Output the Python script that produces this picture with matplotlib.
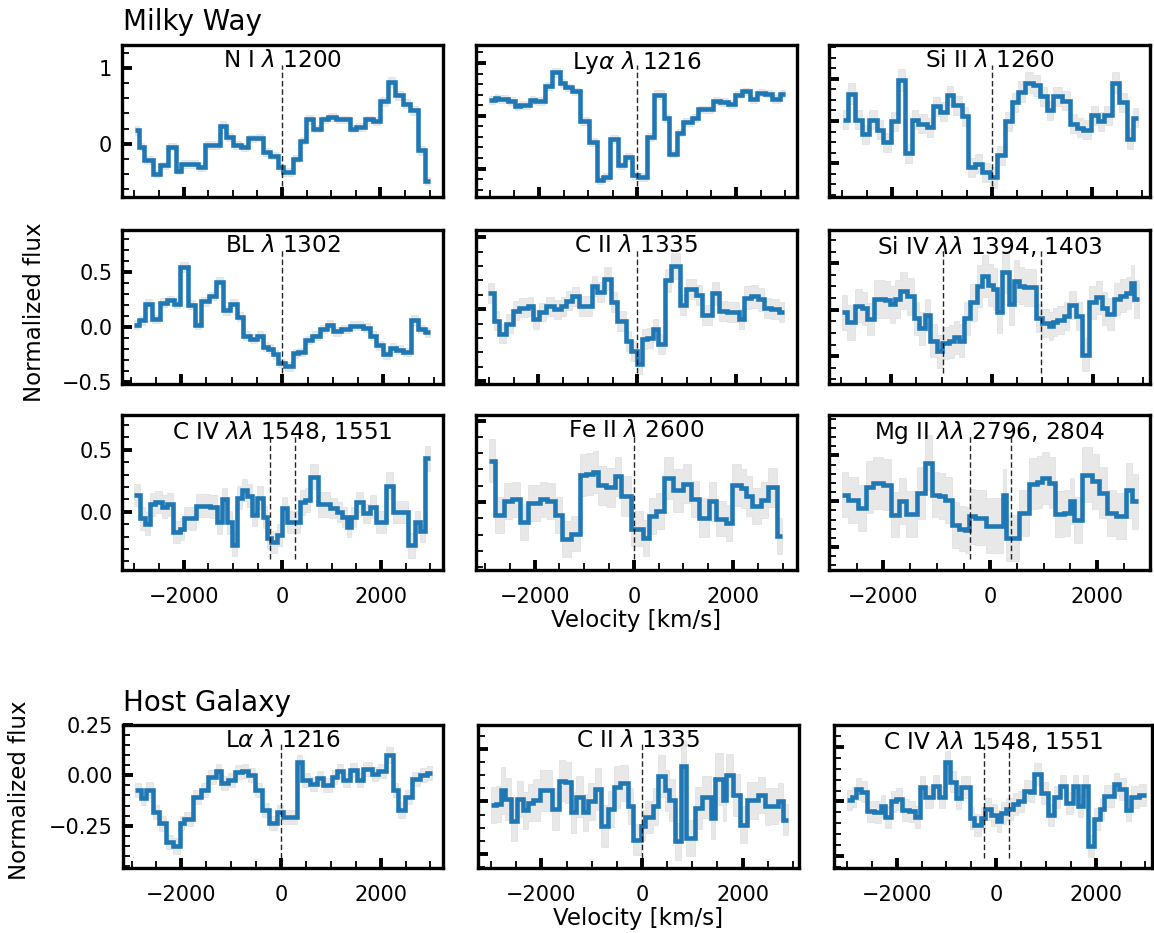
import matplotlib
matplotlib.use("Agg")
import matplotlib.pyplot as plt
from matplotlib.ticker import MultipleLocator, AutoMinorLocator

# --- spectra: bin edges in km/s, normalized flux and 1-sigma error per bin ---
ni_vel = [-2983, -2909, -2807, -2624, -2488, -2319, -2149, -2048, -1709, -1573, -1268, -1132, -997, -827,
          -692, -522, -386, -251, -81, 20, 224, 359, 495, 631, 800, 936, 1105, 1376, 1512, 1681, 1851,
          1987, 2156, 2292, 2461, 2597, 2766, 2902, 3004]
ni_flux = [0.18, -0.04, -0.22, -0.40, -0.29, -0.04, -0.36, -0.27, -0.31, -0.02, 0.24, 0.09, -0.02, -0.05,
           0.07, 0.08, -0.11, -0.16, -0.31, -0.38, -0.20, 0.04, 0.32, 0.20, 0.32, 0.35, 0.32, 0.20, 0.22,
           0.32, 0.30, 0.56, 0.82, 0.64, 0.53, 0.44, -0.09, -0.50]
ni_err = [0.06, 0.05, 0.05, 0.05, 0.05, 0.05, 0.05, 0.05, 0.05, 0.05, 0.06, 0.05, 0.05, 0.05, 0.05, 0.05,
          0.05, 0.05, 0.05, 0.05, 0.05, 0.05, 0.06, 0.05, 0.05, 0.05, 0.05, 0.05, 0.05, 0.05, 0.05, 0.06,
          0.07, 0.06, 0.06, 0.06, 0.06, 0.05]

lya_vel = [-3008, -2887, -2819, -2616, -2481, -2380, -2177, -2075, -1873, -1737, -1568, -1467, -1332, -1163,
           -980, -825, -690, -554, -385, -250, -115, 20, 203, 338, 541, 642, 798, 933, 1102, 1237, 1541,
           1676, 1845, 1981, 2116, 2285, 2420, 2589, 2724, 2893, 2995]
lya_flux = [0.65, 0.67, 0.66, 0.64, 0.59, 0.60, 0.65, 0.64, 0.78, 0.91, 0.81, 0.77, 0.73, 0.45, 0.25, -0.11,
            -0.08, 0.28, 0.03, 0.11, -0.06, -0.08, 0.30, 0.70, 0.48, 0.14, 0.34, 0.44, 0.48, 0.56, 0.64,
            0.63, 0.61, 0.70, 0.73, 0.66, 0.72, 0.71, 0.66, 0.71]
lya_err = [0.04, 0.035, 0.035, 0.035, 0.035, 0.035, 0.035, 0.035, 0.035, 0.04, 0.035, 0.035, 0.035, 0.035,
           0.035, 0.035, 0.035, 0.035, 0.035, 0.035, 0.035, 0.035, 0.035, 0.04, 0.035, 0.035, 0.035, 0.035,
           0.035, 0.035, 0.035, 0.035, 0.035, 0.035, 0.035, 0.035, 0.035, 0.035, 0.035, 0.035]

siii_vel = [-2980, -2893, -2747, -2613, -2467, -2313, -2180, -2027, -1893, -1747, -1613, -1480, -1313, -1180,
            -1047, -913, -780, -613, -480, -347, -213, -47, 100, 253, 387, 520, 653, 820, 953, 1087, 1220,
            1387, 1553, 1687, 1820, 1973, 2107, 2240, 2387, 2533, 2687, 2820, 2920]
siii_flux = [0.006, 0.13, 0.006, -0.063, 0.006, -0.041, -0.10, 0.0, 0.194, -0.152, 0.006, -0.013, -0.029,
             0.07, 0.043, 0.122, 0.075, 0.022, -0.219, -0.203, -0.243, -0.267, -0.163, 0.0, 0.09, 0.138,
             0.181, 0.17, 0.117, 0.051, 0.117, 0.095, -0.013, -0.032, -0.041, 0.027, 0.0, 0.027, 0.181,
             0.09, -0.084, 0.016]
siii_err = [0.045, 0.05, 0.045, 0.045, 0.045, 0.045, 0.045, 0.045, 0.05, 0.045, 0.045, 0.045, 0.045, 0.045,
            0.045, 0.045, 0.045, 0.045, 0.045, 0.045, 0.045, 0.05, 0.045, 0.045, 0.045, 0.05, 0.05, 0.05,
            0.045, 0.045, 0.045, 0.045, 0.045, 0.045, 0.045, 0.045, 0.045, 0.045, 0.05, 0.045, 0.05, 0.045]

bl_vel = [-2928, -2843, -2711, -2579, -2415, -2283, -2152, -2020, -1856, -1724, -1612, -1441, -1309, -1165,
          -1033, -901, -770, -638, -507, -375, -276, -178, -79, 53, 204, 316, 447, 579, 744, 875, 1007,
          1171, 1336, 1599, 1731, 1862, 1994, 2125, 2257, 2389, 2553, 2685, 2816, 2915]
bl_flux = [0.02, 0.06, 0.21, 0.07, 0.22, 0.24, 0.21, 0.54, 0.20, 0.02, 0.23, 0.28, 0.41, 0.15, 0.21, 0.09,
           -0.08, -0.11, -0.08, -0.18, -0.20, -0.25, -0.33, -0.36, -0.24, -0.23, -0.12, -0.08, -0.02, 0.02,
           -0.04, -0.02, 0.01, -0.01, -0.08, -0.17, -0.25, -0.19, -0.21, -0.23, 0.06, -0.02, -0.05]
bl_err = [0.04, 0.04, 0.04, 0.04, 0.04, 0.04, 0.04, 0.045, 0.04, 0.04, 0.04, 0.04, 0.045, 0.04, 0.04, 0.04,
          0.04, 0.04, 0.04, 0.04, 0.04, 0.04, 0.04, 0.04, 0.04, 0.04, 0.04, 0.04, 0.04, 0.04, 0.04, 0.04,
          0.04, 0.04, 0.04, 0.04, 0.04, 0.04, 0.04, 0.04, 0.045, 0.04, 0.04]

cii_vel = [-3015, -2907, -2793, -2658, -2524, -2389, -2221, -2120, -1985, -1851, -1683, -1548, -1447, -1312,
           -1178, -909, -808, -673, -538, -404, -236, -135, 0, 101, 202, 316, 417, 552, 686, 855, 976, 1178,
           1312, 1514, 1649, 1817, 2053, 2167, 2302, 2436, 2571, 2705, 2860, 2961]
cii_flux = [0.11, -0.08, -0.17, -0.10, -0.01, 0.01, 0.02, -0.07, -0.02, 0.02, 0.0, 0.02, 0.06, 0.09, 0.02,
            0.16, 0.12, 0.21, 0.05, -0.08, -0.22, -0.29, -0.38, -0.21, -0.20, -0.14, -0.24, 0.20, 0.30,
            0.03, 0.14, 0.10, -0.04, 0.11, -0.01, -0.02, -0.07, 0.08, 0.09, 0.07, 0.01, 0.0, -0.02]
cii_err = [0.07, 0.065, 0.065, 0.065, 0.065, 0.065, 0.065, 0.065, 0.065, 0.065, 0.065, 0.065, 0.065, 0.065,
           0.07, 0.07, 0.07, 0.08, 0.07, 0.07, 0.07, 0.07, 0.07, 0.07, 0.07, 0.07, 0.07, 0.08, 0.09, 0.07,
           0.07, 0.07, 0.07, 0.08, 0.07, 0.07, 0.07, 0.08, 0.08, 0.08, 0.07, 0.07, 0.07]

siiv_vel = [-2966, -2880, -2714, -2582, -2483, -2330, -2118, -2019, -1920, -1821, -1688, -1556, -1456, -1324,
            -1225, -1092, -993, -861, -761, -662, -563, -430, -298, -199, -79, 13, 99, 199, 331, 430, 530,
            629, 874, 993, 1125, 1205, 1291, 1423, 1523, 1655, 1787, 1920, 2052, 2171, 2284, 2416, 2529,
            2648, 2747, 2814, 2913]
siiv_flux = [-0.011, -0.054, 0.017, 0.006, -0.04, 0.046, 0.043, 0.024, 0.046, 0.081, 0.057, -0.037, -0.08,
             -0.023, -0.133, -0.179, -0.143, -0.137, -0.119, -0.133, -0.037, 0.031, 0.103, 0.146, 0.106,
             0.089, -0.009, 0.163, 0.024, 0.124, 0.103, 0.096, -0.037, -0.057, -0.069, -0.054, -0.043,
             -0.026, 0.02, -0.029, -0.194, 0.031, 0.053, 0.006, -0.019, 0.046, 0.06, 0.071, 0.114, 0.046]
siiv_err = [0.075, 0.075, 0.07, 0.07, 0.07, 0.08, 0.08, 0.08, 0.08, 0.08, 0.08, 0.07, 0.07, 0.07, 0.07, 0.07,
            0.07, 0.07, 0.07, 0.07, 0.07, 0.08, 0.09, 0.09, 0.09, 0.09, 0.09, 0.09, 0.09, 0.09, 0.08, 0.08,
            0.06, 0.06, 0.06, 0.06, 0.06, 0.06, 0.06, 0.06, 0.07, 0.07, 0.07, 0.07, 0.07, 0.07, 0.07, 0.07,
            0.08, 0.08]

civ_vel = [-3002, -2894, -2779, -2678, -2577, -2442, -2341, -2219, -2071, -2003, -1868, -1747, -1464, -1329,
           -1228, -1126, -1025, -911, -823, -722, -620, -519, -398, -317, -236, -101, -13, 101, 357, 459,
           560, 728, 965, 1099, 1201, 1302, 1383, 1504, 1639, 1774, 1909, 2111, 2246, 2550, 2685, 2786,
           2887, 2992]
civ_flux = [0.135, -0.054, -0.095, 0.059, 0.081, 0.041, 0.059, -0.162, -0.141, -0.049, -0.054, 0.049, 0.041,
            -0.086, 0.103, -0.086, -0.265, 0.114, 0.176, 0.130, -0.027, 0.114, -0.041, -0.211, -0.243,
            -0.189, 0.027, -0.081, 0.076, 0.095, 0.284, 0.059, 0.027, -0.005, -0.041, -0.122, -0.041, 0.076,
            -0.014, 0.041, -0.081, 0.211, 0.0, -0.27, -0.081, -0.157, 0.432]
civ_err = [0.09, 0.09, 0.09, 0.09, 0.09, 0.09, 0.09, 0.09, 0.09, 0.09, 0.09, 0.09, 0.09, 0.09, 0.09, 0.09,
           0.09, 0.09, 0.09, 0.09, 0.09, 0.09, 0.09, 0.09, 0.09, 0.09, 0.09, 0.09, 0.1, 0.1, 0.1, 0.1, 0.08,
           0.08, 0.08, 0.08, 0.08, 0.08, 0.08, 0.09, 0.09, 0.11, 0.09, 0.1, 0.09, 0.09, 0.1]

feii_vel = [-2917, -2796, -2629, -2462, -2295, -2127, -1893, -1759, -1592, -1445, -1271, -1090, -957, -823,
            -723, -555, -375, -254, -54, 181, 314, 448, 615, 783, 983, 1151, 1318, 1519, 1652, 1853, 1987,
            2154, 2255, 2388, 2556, 2703, 2890, 2990]
feii_flux = [0.255, -0.078, 0.004, 0.016, -0.122, -0.006, 0.016, 0.006, -0.078, -0.229, -0.194, 0.167, 0.173,
             0.184, 0.102, 0.092, 0.159, 0.037, -0.163, -0.220, -0.086, -0.057, 0.147, 0.071, 0.112, 0.020,
             -0.098, 0.004, -0.102, -0.127, 0.106, 0.086, 0.037, -0.024, 0.010, 0.092, -0.208]
feii_err = [0.13, 0.11, 0.11, 0.11, 0.11, 0.11, 0.11, 0.11, 0.11, 0.11, 0.11, 0.13, 0.13, 0.13, 0.12, 0.12,
            0.12, 0.12, 0.11, 0.11, 0.11, 0.11, 0.13, 0.13, 0.12, 0.11, 0.12, 0.12, 0.11, 0.11, 0.13, 0.12,
            0.12, 0.11, 0.11, 0.12, 0.11]

mgii_vel = [-2769, -2656, -2481, -2331, -2188, -2000, -1856, -1706, -1581, -1375, -1219, -1094, -969, -844,
            -719, -594, -481, -394, -281, -81, 231, 294, 544, 719, 875, 969, 1094, 1219, 1375, 1500, 1563,
            1719, 1906, 2031, 2188, 2344, 2531, 2656, 2769]
mgii_flux = [0.073, 0.015, -0.073, 0.156, 0.2, 0.182, -0.145, 0.0, -0.135, 0.091, 0.422, 0.073, 0.058, 0.011,
             -0.262, -0.298, -0.316, -0.164, -0.182, -0.269, 0.073, -0.4, -0.124, 0.193, 0.211, 0.255, 0.204,
             -0.135, -0.124, 0.0, -0.207, 0.291, 0.218, 0.095, -0.124, -0.16, 0.12, 0.0]
mgii_err = [0.25, 0.25, 0.25, 0.28, 0.28, 0.28, 0.25, 0.25, 0.25, 0.28, 0.3, 0.25, 0.25, 0.25, 0.25, 0.25,
            0.25, 0.3, 0.3, 0.3, 0.28, 0.25, 0.25, 0.28, 0.28, 0.28, 0.28, 0.25, 0.25, 0.25, 0.25, 0.3, 0.3,
            0.28, 0.25, 0.25, 0.3, 0.3]

hla_vel = [-2930, -2816, -2709, -2576, -2442, -2308, -2174, -2027, -1947, -1759, -1612, -1458, -1305, -1211,
           -1057, -923, -789, -656, -522, -388, -234, -87, 47, 314, 415, 582, 716, 850, 1017, 1131, 1251,
           1385, 1519, 1652, 1820, 1953, 2107, 2254, 2355, 2488, 2622, 2790, 2924, 3024]
hla_flux = [-0.074, -0.111, -0.074, -0.182, -0.239, -0.330, -0.351, -0.236, -0.215, -0.107, -0.074, -0.008,
            0.021, -0.038, -0.025, 0.017, 0.021, 0.0, -0.074, -0.170, -0.236, -0.182, -0.206, 0.066, -0.025,
            -0.041, -0.012, -0.050, -0.008, 0.021, -0.025, 0.025, -0.021, 0.033, 0.005, 0.021, 0.099, -0.074,
            -0.170, -0.107, -0.017, 0.0, 0.012]
hla_err = [0.035, 0.035, 0.04, 0.035, 0.035, 0.035, 0.04, 0.035, 0.035, 0.035, 0.035, 0.035, 0.035, 0.035,
           0.035, 0.035, 0.035, 0.035, 0.035, 0.035, 0.035, 0.035, 0.035, 0.035, 0.035, 0.035, 0.035, 0.035,
           0.035, 0.035, 0.035, 0.035, 0.035, 0.035, 0.035, 0.035, 0.04, 0.035, 0.04, 0.035, 0.035, 0.035,
           0.035]

hcii_vel = [-2997, -2897, -2811, -2718, -2599, -2480, -2367, -2267, -2168, -2035, -1790, -1658, -1538, -1419,
            -1306, -1174, -1074, -941, -822, -676, -557, -444, -278, -179, -27, 53, 219, 318, 451, 530, 650,
            769, 882, 1048, 1193, 1366, 1459, 1611, 1677, 1810, 1943, 2095, 2307, 2440, 2539, 2705, 2804,
            2904]
hcii_flux = [-0.013, -0.009, 0.042, 0.009, -0.073, 0.009, -0.034, -0.004, 0.006, 0.042, -0.029, 0.080, 0.073,
             -0.042, 0.019, -0.042, 0.0, 0.047, -0.093, -0.029, 0.055, 0.070, -0.017, -0.146, -0.093, -0.060,
             -0.019, 0.098, 0.042, 0.006, -0.153, 0.136, -0.140, -0.025, 0.017, -0.064, 0.085, 0.004, 0.102,
             0.025, -0.089, 0.004, 0.025, -0.019, -0.017, 0.0, -0.070]
hcii_err = [0.07, 0.07, 0.09, 0.08, 0.08, 0.07, 0.07, 0.07, 0.08, 0.08, 0.08, 0.08, 0.08, 0.08, 0.08, 0.07,
            0.07, 0.08, 0.08, 0.07, 0.08, 0.07, 0.07, 0.06, 0.06, 0.06, 0.07, 0.08, 0.08, 0.08, 0.07, 0.1,
            0.07, 0.08, 0.08, 0.08, 0.1, 0.08, 0.08, 0.08, 0.07, 0.07, 0.07, 0.07, 0.07, 0.07, 0.06]

hciv_vel = [-2990, -2897, -2810, -2709, -2589, -2455, -2321, -2228, -2121, -2007, -1893, -1759, -1626, -1539,
            -1425, -1271, -1157, -1037, -937, -803, -702, -535, -448, -301, -221, -100, 20, 100, 201, 335,
            448, 555, 689, 769, 903, 1037, 1171, 1291, 1405, 1539, 1639, 1739, 1853, 1974, 2094, 2174, 2375,
            2475, 2609, 2709, 2877, 3011]
hciv_flux = [0.015, 0.039, 0.112, 0.091, -0.091, -0.100, -0.039, -0.142, 0.0, 0.021, -0.076, -0.091, -0.142,
             0.130, 0.045, 0.142, 0.045, 0.364, 0.182, 0.030, 0.136, -0.152, -0.212, -0.152, -0.070, -0.121,
             -0.182, -0.106, -0.070, -0.021, 0.0, 0.100, 0.091, 0.252, 0.076, -0.121, 0.045, 0.142, -0.015,
             0.142, -0.045, 0.142, -0.403, -0.161, -0.070, 0.052, 0.161, 0.112, -0.076, 0.045, 0.061]
hciv_err = [0.09, 0.09, 0.1, 0.1, 0.1, 0.1, 0.1, 0.1, 0.1, 0.1, 0.1, 0.1, 0.1, 0.1, 0.1, 0.1, 0.1, 0.1, 0.1,
            0.1, 0.1, 0.1, 0.1, 0.1, 0.1, 0.1, 0.1, 0.1, 0.1, 0.1, 0.1, 0.1, 0.1, 0.1, 0.1, 0.1, 0.1, 0.1,
            0.1, 0.1, 0.1, 0.1, 0.1, 0.1, 0.1, 0.1, 0.1, 0.1, 0.1, 0.1, 0.1]

# line centres (km/s) marked with dashed lines
single = [0]
siiv_pair = [-966, 966]
civ_pair = [-250, 250]
mgii_pair = [-385, 385]

panels = [
    (r"N I $\lambda$ 1200", ni_vel, ni_flux, ni_err, single),
    (r"Ly$\alpha$ $\lambda$ 1216", lya_vel, lya_flux, lya_err, single),
    (r"Si II $\lambda$ 1260", siii_vel, siii_flux, siii_err, single),
    (r"BL $\lambda$ 1302", bl_vel, bl_flux, bl_err, single),
    (r"C II $\lambda$ 1335", cii_vel, cii_flux, cii_err, single),
    (r"Si IV $\lambda\lambda$ 1394, 1403", siiv_vel, siiv_flux, siiv_err, siiv_pair),
    (r"C IV $\lambda\lambda$ 1548, 1551", civ_vel, civ_flux, civ_err, civ_pair),
    (r"Fe II $\lambda$ 2600", feii_vel, feii_flux, feii_err, single),
    (r"Mg II $\lambda\lambda$ 2796, 2804", mgii_vel, mgii_flux, mgii_err, mgii_pair),
    (r"L$\alpha$ $\lambda$ 1216", hla_vel, hla_flux, hla_err, single),
    (r"C II $\lambda$ 1335", hcii_vel, hcii_flux, hcii_err, single),
    (r"C IV $\lambda\lambda$ 1548, 1551", hciv_vel, hciv_flux, hciv_err, civ_pair),
]

xlims = [(-3250, 3270), (-3275, 3236), (-3266, 3154), (-3171, 3179), (-3264, 3230), (-3232, 3132),
         (-3251, 3258), (-3184, 3291), (-3019, 2988), (-3178, 3258), (-3262, 3123), (-3258, 3131)]
ylims = [(-0.71, 1.31), (-0.27, 1.17), (-0.36, 0.36), (-0.52, 0.88), (-0.52, 0.55), (-0.32, 0.343),
         (-0.47, 0.78), (-0.418, 0.535), (-0.75, 0.94), (-0.46, 0.25), (-0.255, 0.293), (-0.606, 0.697)]
ysteps = [1, 0.5, 0.2, 0.5, 0.5, 0.2, 0.5, 0.5, 0.5, 0.25, 0.2, 0.5]

FIG_W, FIG_H = 1154, 933

# axes frames in pixels: (left, right), (top, bottom)
row_px = [(45, 197), (230, 384), (415, 570), (725, 868)]
col_px = [(122, 443), (476, 797), (829, 1150)]
host_col_px = [(122.7, 443.3), (478, 799), (834, 1152)]


def place(x0, x1, y0, y1):
    return [x0 / FIG_W, 1 - y1 / FIG_H, (x1 - x0) / FIG_W, (y1 - y0) / FIG_H]


plt.rcParams.update({
    "axes.linewidth": 2.4,
    "xtick.direction": "in", "ytick.direction": "in",
    "xtick.major.size": 7.5, "ytick.major.size": 7.5,
    "xtick.major.width": 2.8, "ytick.major.width": 2.8,
    "xtick.minor.size": 4.8, "ytick.minor.size": 4.8,
    "xtick.minor.width": 1.3, "ytick.minor.width": 1.3,
    "xtick.labelsize": 15, "ytick.labelsize": 15,
    "xtick.major.pad": 12, "ytick.major.pad": 7,
})

fig = plt.figure(figsize=(FIG_W / 100, FIG_H / 100), dpi=100)

for i, (title, vel, flux, err, centres) in enumerate(panels):
    row, col = divmod(i, 3)
    cols = host_col_px if row == 3 else col_px
    ax = fig.add_axes(place(*cols[col], *row_px[row]))

    lo = [f - e for f, e in zip(flux, err)]
    hi = [f + e for f, e in zip(flux, err)]
    ax.stairs(hi, vel, baseline=lo, fill=True, facecolor="grey", edgecolor="grey",
              lw=0.5, alpha=0.18)
    ax.stairs(flux, vel, baseline=None, color="#1f77b4", lw=3.3)
    for v in centres:
        ax.axvline(v, ymin=0.07, ymax=0.87, color="k", lw=1.0, ls=(0, (4, 2)), alpha=0.85)

    ax.text(0.5, 0.975, title, transform=ax.transAxes, ha="center", va="top", fontsize=16.7)

    ax.set_xlim(*xlims[i])
    ax.set_ylim(*ylims[i])
    ax.xaxis.set_major_locator(MultipleLocator(2000))
    ax.xaxis.set_minor_locator(AutoMinorLocator())
    ax.yaxis.set_major_locator(MultipleLocator(ysteps[i]))
    ax.yaxis.set_minor_locator(AutoMinorLocator())
    ax.tick_params(which="both", top=False, right=False,
                   labelleft=(col == 0), labelbottom=(row >= 2))

fig.text(123 / FIG_W, 1 - 30 / FIG_H, "Milky Way", fontsize=20, va="baseline")
fig.text(123 / FIG_W, 1 - 711 / FIG_H, "Host Galaxy", fontsize=20, va="baseline")
fig.text(35 / FIG_W, 1 - 312 / FIG_H, "Normalized flux", rotation=90, ha="center", va="center",
         fontsize=16.5)
fig.text(20 / FIG_W, 1 - 790 / FIG_H, "Normalized flux", rotation=90, ha="center", va="center",
         fontsize=16.5)
fig.text(636 / FIG_W, 1 - 620 / FIG_H, "Velocity [km/s]", ha="center", va="center", fontsize=16.5)
fig.text(638 / FIG_W, 1 - 918 / FIG_H, "Velocity [km/s]", ha="center", va="center", fontsize=16.5)

fig.savefig("out.png", dpi=100)
